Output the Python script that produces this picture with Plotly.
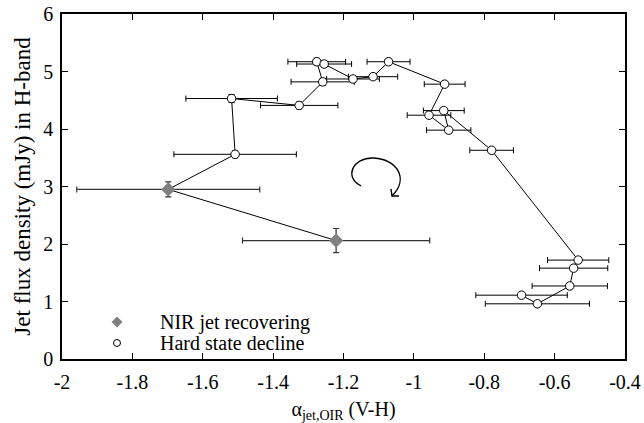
import plotly.graph_objects as go

# NIR jet recovering (diamonds)
nir_x = [-1.221, -1.698]
nir_y = [2.06, 2.95]
nir_xerr = [0.266, 0.26]
nir_yerr = [0.21, 0.13]

# Hard state decline (open circles), in path order
hsd_x = [-1.508, -1.518, -1.326, -1.259, -1.276, -1.255, -1.173, -1.116, -1.072,
         -0.9125, -0.957, -0.901, -0.915, -0.779, -0.533, -0.546, -0.557, -0.649, -0.694]
hsd_y = [3.56, 4.53, 4.41, 4.82, 5.17, 5.13, 4.87, 4.91, 5.17,
         4.78, 4.24, 3.98, 4.32, 3.63, 1.72, 1.58, 1.27, 0.96, 1.11]
hsd_xerr = [0.174, 0.13, 0.11, 0.09, 0.082, 0.078, 0.075, 0.07, 0.061,
            0.058, 0.062, 0.063, 0.058, 0.062, 0.087, 0.097, 0.107, 0.148, 0.13]
hsd_yerr = [0.06, 0.07, 0.06, 0.06, 0.06, 0.06, 0.05, 0.05, 0.05,
            0.05, 0.05, 0.05, 0.05, 0.05, 0.05, 0.05, 0.05, 0.05, 0.05]

x_ticks = [-2, -1.8, -1.6, -1.4, -1.2, -1, -0.8, -0.6, -0.4]
x_ticktext = ["-2", "-1.8", "-1.6", "-1.4", "-1.2", "-1", "-0.8", "-0.6", "-0.4"]
y_ticks = [0, 1, 2, 3, 4, 5, 6]

legend_labels = ["NIR jet recovering", "Hard state decline"]

FONT = "'Liberation Serif', 'Times New Roman', Times, serif"

fig = go.Figure()

# connecting line through the whole sequence
fig.add_trace(go.Scatter(
    x=nir_x + hsd_x, y=nir_y + hsd_y, mode="lines",
    line=dict(color="black", width=1), showlegend=False, hoverinfo="skip"))

fig.add_trace(go.Scatter(
    x=nir_x, y=nir_y, mode="markers", name=legend_labels[0], showlegend=False,
    marker=dict(symbol="diamond", size=11, color="#808080", line=dict(width=0)),
    error_x=dict(type="data", array=nir_xerr, color="#333333", thickness=1.2, width=3),
    error_y=dict(type="data", array=nir_yerr, color="#333333", thickness=1.2, width=3)))

fig.add_trace(go.Scatter(
    x=hsd_x, y=hsd_y, mode="markers", name=legend_labels[1], showlegend=False,
    marker=dict(symbol="circle", size=8.5, color="white", line=dict(color="black", width=1)),
    error_x=dict(type="data", array=hsd_xerr, color="black", thickness=1, width=3),
    error_y=dict(type="data", array=hsd_yerr, color="black", thickness=1, width=3)))

# curved arrow (clockwise)
fig.add_shape(type="path",
              path="M -1.150,3.009 C -1.1986,3.148 -1.1759,3.513 -1.1134,3.496 "
                   "C -1.0509,3.478 -1.0111,3.148 -1.0622,2.835",
              line=dict(color="black", width=1.4), xref="x", yref="y")
fig.add_shape(type="path",
              path="M -1.0651,2.957 L -1.0622,2.835 L -1.0423,2.835",
              line=dict(color="black", width=1.4), xref="x", yref="y")

# manual legend (tight row spacing like the reference)
leg_sym_x = 0.0977
leg_txt_x = 0.1705
leg_rows_y = [0.1072, 0.0464]
fig.add_shape(type="path", xref="paper", yref="paper", xsizemode="pixel", ysizemode="pixel",
              xanchor=leg_sym_x, yanchor=leg_rows_y[0],
              path="M 0,5.5 L 5.5,0 L 0,-5.5 L -5.5,0 Z",
              fillcolor="#808080", line=dict(width=0))
fig.add_shape(type="circle", xref="paper", yref="paper", xsizemode="pixel", ysizemode="pixel",
              xanchor=leg_sym_x, yanchor=leg_rows_y[1],
              x0=-3.5, x1=3.5, y0=-3.5, y1=3.5,
              fillcolor="white", line=dict(color="black", width=1))
for txt, yy in zip(legend_labels, leg_rows_y):
    fig.add_annotation(x=leg_txt_x, y=yy, xref="paper", yref="paper", text=txt,
                       showarrow=False, xanchor="left", yanchor="middle",
                       font=dict(family=FONT, size=20, color="black"))

fig.update_layout(
    width=644, height=423,
    margin=dict(l=62, r=19, t=14, b=64),
    paper_bgcolor="white", plot_bgcolor="white",
    font=dict(family=FONT, size=20, color="black"),
    showlegend=False,
    xaxis=dict(range=[-2, -0.4], tickvals=x_ticks, ticktext=x_ticktext,
               ticks="inside", ticklen=6, tickcolor="black", tickwidth=1,
               showline=True, linecolor="black", linewidth=1.5, mirror="ticks",
               showgrid=False, zeroline=False, automargin=False,
               tickfont=dict(family=FONT, size=20), ticklabelstandoff=4,
               title=dict(text="α<sub>jet,OIR</sub> (V-H)", font=dict(family=FONT, size=20), standoff=12)),
    yaxis=dict(range=[0, 6], tickvals=y_ticks,
               ticks="inside", ticklen=6, tickcolor="black", tickwidth=1,
               showline=True, linecolor="black", linewidth=1.5, mirror="ticks",
               showgrid=False, zeroline=False, automargin=False,
               tickfont=dict(family=FONT, size=20), ticklabelstandoff=3,
               title=dict(text="Jet flux density (mJy) in H-band", font=dict(family=FONT, size=23), standoff=6)),
)

fig.write_html("out.html", config={"displayModeBar": False},
               post_script="document.body.style.margin='0px';document.body.style.overflow='hidden';")
